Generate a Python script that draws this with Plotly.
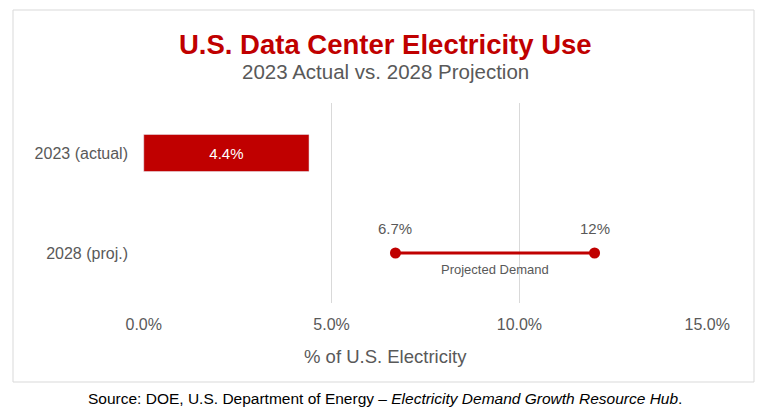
import plotly.graph_objects as go

categories = ["2023 (actual)", "2028 (proj.)"]
actual_2023 = 4.4
proj_low = 6.7
proj_high = 12.0
tick_vals = [0, 5, 10, 15]
tick_text = ["0.0%", "5.0%", "10.0%", "15.0%"]

red = "#C00000"
grey = "#595959"

fig = go.Figure()

fig.add_trace(go.Bar(
    x=[actual_2023], y=[categories[0]], orientation="h",
    marker_color=red, width=0.37,
    text=[f"{actual_2023:.1f}%"], textposition="inside", insidetextanchor="middle",
    textfont=dict(color="white", size=15, family="Liberation Sans"),
    hoverinfo="skip",
))

fig.add_trace(go.Scatter(
    x=[proj_low, proj_high], y=[categories[1]] * 2, mode="lines+markers",
    line=dict(color=red, width=3), marker=dict(color=red, size=11),
    hoverinfo="skip",
))

fig.add_annotation(x=proj_low, y=categories[1], text="6.7%", showarrow=False,
                   yshift=25, font=dict(size=15, color=grey))
fig.add_annotation(x=proj_high, y=categories[1], text="12%", showarrow=False,
                   yshift=25, font=dict(size=15, color=grey))
fig.add_annotation(x=(proj_low + proj_high) / 2, y=categories[1], text="Projected Demand",
                   showarrow=False, yshift=-16, font=dict(size=13, color=grey))


def py(page_y):
    return (303 - page_y) / 200


def px(page_x):
    return (page_x - 143) / 565


for txt, yy, size, col in [
    ("<b>U.S. Data Center Electricity Use</b>", 45, 27.5, red),
    ("2023 Actual vs. 2028 Projection", 72, 20.5, grey),
    ("% of U.S. Electricity", 356, 18.5, grey),
    ("Source: DOE, U.S. Department of Energy \u2013 <i>Electricity Demand Growth Resource Hub</i>.",
     398, 15.5, "black"),
]:
    fig.add_annotation(xref="paper", yref="paper", x=px(385), y=py(yy),
                       xanchor="center", yanchor="middle",
                       text=txt, showarrow=False, font=dict(size=size, color=col))

fig.add_shape(type="rect", xref="paper", yref="paper",
              x0=px(13), x1=px(754), y0=py(382), y1=py(10),
              line=dict(color="#d9d9d9", width=1))

fig.update_layout(
    width=759, height=408,
    margin=dict(l=135, r=59, t=95, b=113),
    paper_bgcolor="white", plot_bgcolor="white",
    showlegend=False,
    font=dict(family="Liberation Sans, Arial", color=grey),
    xaxis=dict(range=[-0.02, 15.02], tickvals=tick_vals, ticktext=tick_text,
               showgrid=True, gridcolor="#d9d9d9", zeroline=False,
               tickfont=dict(size=16, color=grey), ticklabelstandoff=10),
    yaxis=dict(categoryorder="array", categoryarray=categories,
               range=[1.5, -0.5], showgrid=False, zeroline=False,
               tickfont=dict(size=16, color=grey), ticklabelstandoff=14),
)

fig.write_html("out.html")
